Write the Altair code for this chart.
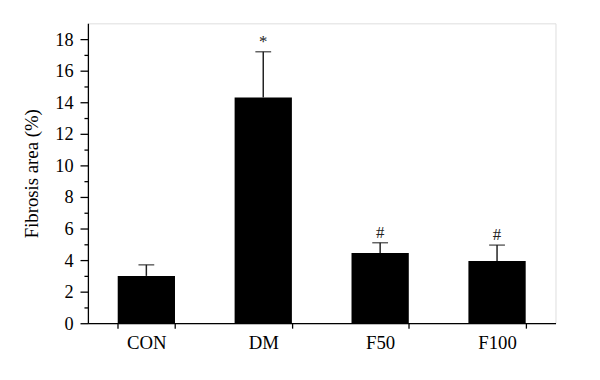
import altair as alt
import pandas as pd

groups = ["CON", "DM", "F50", "F100"]
means = [3.0, 14.3, 4.45, 3.95]
errors = [0.7, 2.9, 0.65, 1.0]
marks = ["", "*", "#", "#"]
y_ticks = list(range(0, 19))

df = pd.DataFrame({
    "group": groups,
    "mean": means,
    "upper": [m + e for m, e in zip(means, errors)],
    "mark": marks,
})

FONT = "Liberation Serif"

x = alt.X("group:N", sort=groups, title=None,
          scale=alt.Scale(paddingInner=0.51, paddingOuter=0.255),
          axis=alt.Axis(labelAngle=0, tickBand="extent", tickSize=5, tickColor="black",
                        domainColor="black", labelFont=FONT, labelFontSize=19,
                        labelColor="black", labelPadding=6, domainWidth=1.3, tickWidth=1.3))
yaxis = alt.Axis(values=y_ticks, grid=False, labelOverlap=False,
                 labelExpr="datum.value % 2 === 0 ? datum.label : ''",
                 tickSize={"condition": {"test": "datum.value % 2 === 0", "value": 8}, "value": 4},
                 tickColor="black", domainColor="black", domainWidth=1.3, tickWidth=1.3,
                 labelFont=FONT, labelFontSize=18.5, labelColor="black", labelPadding=7,
                 titleFont=FONT, titleFontSize=19, titleFontWeight="normal",
                 titleColor="black", titlePadding=14)
yscale = alt.Scale(domain=[0, 19], nice=False)
ytitle = "Fibrosis area (%)"

base = alt.Chart(df)

bars = base.mark_bar(color="black").encode(
    x=x, y=alt.Y("mean:Q", title=ytitle, scale=yscale, axis=yaxis))
err = base.mark_rule(color="#222", strokeWidth=1.5).encode(
    x=alt.X("group:N", sort=groups),
    y=alt.Y("mean:Q", title=ytitle, scale=yscale, axis=yaxis), y2="upper:Q")
cap = base.mark_tick(color="#222", thickness=1.5, size=16, orient="horizontal").encode(
    x=alt.X("group:N", sort=groups),
    y=alt.Y("upper:Q", title=ytitle, scale=yscale, axis=yaxis))
txt = base.mark_text(font=FONT, fontSize=17, baseline="bottom", dy=-1, color="#222").encode(
    x=alt.X("group:N", sort=groups),
    y=alt.Y("upper:Q", title=ytitle, scale=yscale, axis=yaxis), text="mark:N")

chart = alt.layer(bars, err, cap, txt).properties(
    width=474, height=304,
    autosize=alt.AutoSizeParams(type="none"),
    padding={"left": 81, "top": 13, "right": 37, "bottom": 55},
).configure_view(stroke=None).configure(background="white")

chart.save("out.html", embed_options={"renderer": "svg", "actions": False})
